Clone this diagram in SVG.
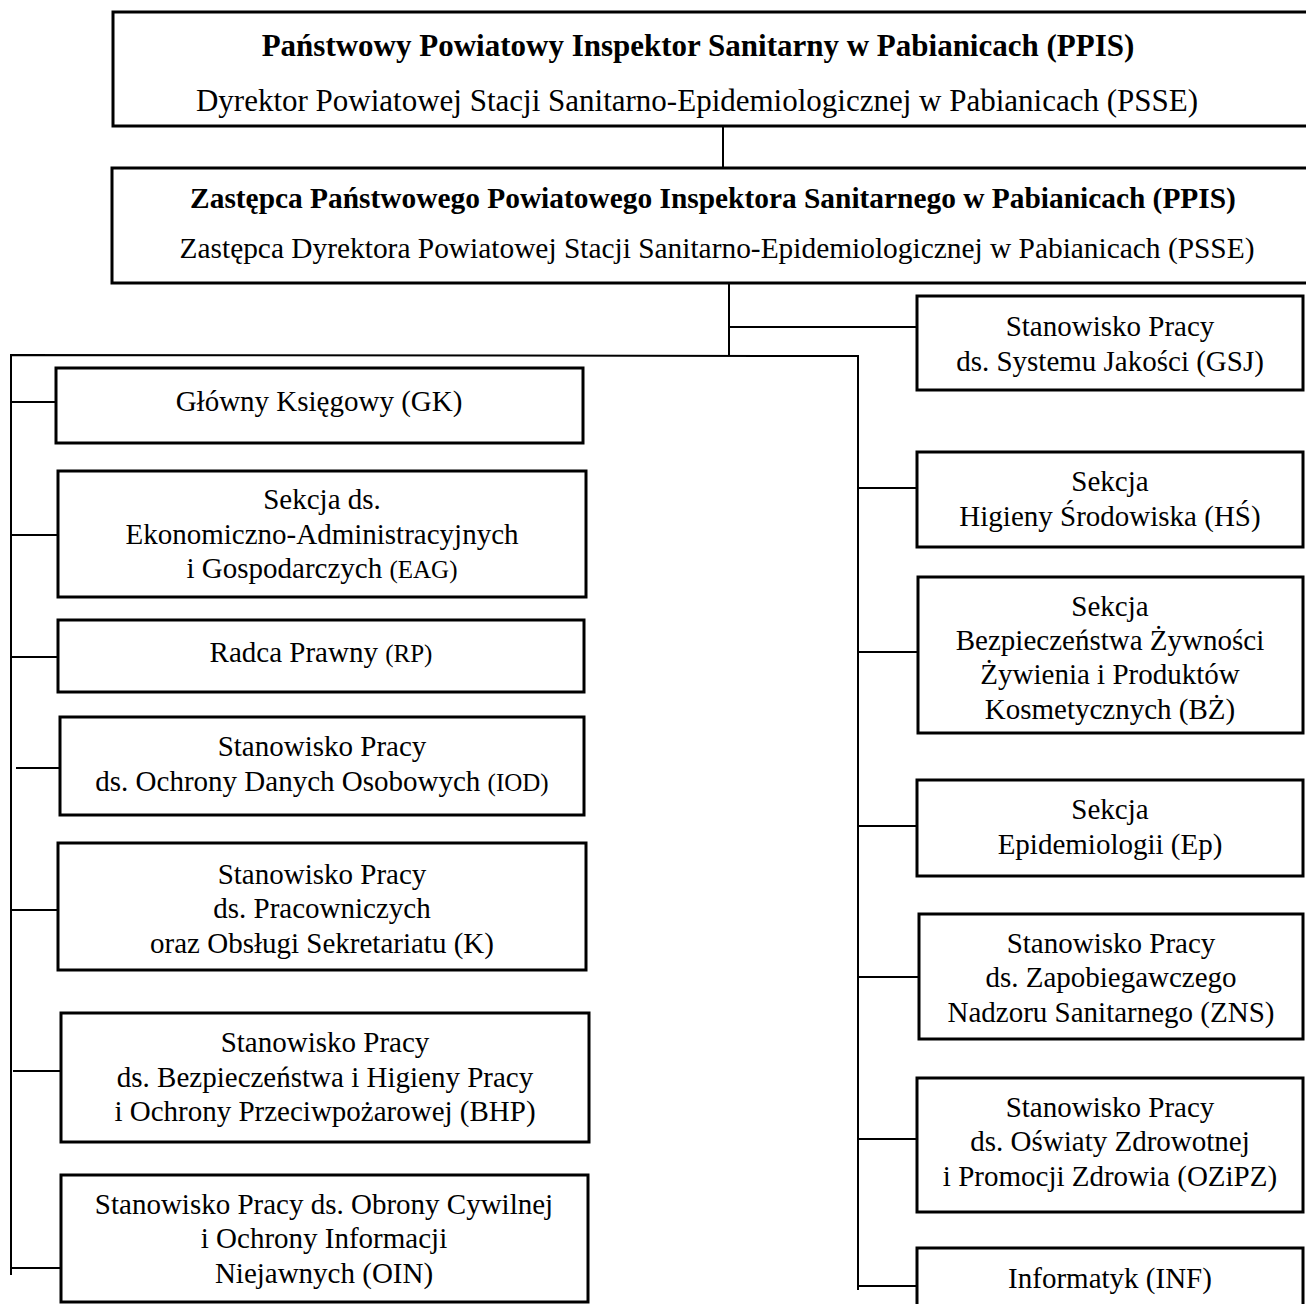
<svg xmlns="http://www.w3.org/2000/svg" width="1306" height="1304" viewBox="0 0 1306 1304">
<style>
.box{fill:#fff;stroke:#000;stroke-width:3}
.ln{stroke:#000;stroke-width:2;fill:none}
text{font-family:"Liberation Serif","Times New Roman",serif;font-size:29px;fill:#000;text-anchor:middle}
.b{font-weight:bold}
.s{font-size:25px}
.t1{font-size:31px}
.t2{font-size:29.4px}
</style>
<rect width="1306" height="1304" fill="#fff"/>
<g id="connectors">
<line class="ln" x1="723" y1="126" x2="723" y2="168"/>
<line class="ln" x1="729" y1="283" x2="729" y2="355"/>
<line class="ln" x1="729" y1="327" x2="917" y2="327"/>
<polyline class="ln" points="11,1275 11,355 858,356 858,1290"/>
<line class="ln" x1="11" y1="402" x2="56" y2="402"/>
<line class="ln" x1="11" y1="535" x2="58" y2="535"/>
<line class="ln" x1="11" y1="657" x2="58" y2="657"/>
<line class="ln" x1="16" y1="768" x2="60" y2="768"/>
<line class="ln" x1="11" y1="910" x2="58" y2="910"/>
<line class="ln" x1="13" y1="1071" x2="61" y2="1071"/>
<line class="ln" x1="11" y1="1268" x2="61" y2="1268"/>
<line class="ln" x1="858" y1="488" x2="917" y2="488"/>
<line class="ln" x1="858" y1="652" x2="918" y2="652"/>
<line class="ln" x1="858" y1="826" x2="917" y2="826"/>
<line class="ln" x1="858" y1="977" x2="919" y2="977"/>
<line class="ln" x1="858" y1="1139" x2="917" y2="1139"/>
<line class="ln" x1="858" y1="1286" x2="917" y2="1286"/>
</g>
<g id="ppis">
<rect class="box" x="113" y="12" width="1200" height="114"/>
<text class="b t1" x="698" y="56">Państwowy Powiatowy Inspektor Sanitarny w Pabianicach (PPIS)</text>
<text class="t1" x="697" y="111">Dyrektor Powiatowej Stacji Sanitarno-Epidemiologicznej w Pabianicach (PSSE)</text>
</g>
<g id="zastepca">
<rect class="box" x="112" y="168" width="1200" height="115"/>
<text class="b t2" x="713" y="208">Zastępca Państwowego Powiatowego Inspektora Sanitarnego w Pabianicach (PPIS)</text>
<text class="t2" x="717" y="258">Zastępca Dyrektora Powiatowej Stacji Sanitarno-Epidemiologicznej w Pabianicach (PSSE)</text>
</g>
<g id="gsj">
<rect class="box" x="917" y="296" width="386" height="94"/>
<text x="1110" y="336">Stanowisko Pracy</text>
<text x="1110" y="371">ds. Systemu Jakości (GSJ)</text>
</g>
<g id="gk">
<rect class="box" x="56" y="368" width="527" height="75"/>
<text x="319" y="411">Główny Księgowy (GK)</text>
</g>
<g id="eag">
<rect class="box" x="58" y="471" width="528" height="126"/>
<text x="322" y="509">Sekcja ds.</text>
<text x="322" y="544">Ekonomiczno-Administracyjnych</text>
<text x="322" y="578">i Gospodarczych  <tspan class="s">(EAG)</tspan></text>
</g>
<g id="rp">
<rect class="box" x="58" y="620" width="526" height="72"/>
<text x="321" y="662">Radca Prawny <tspan class="s">(RP)</tspan></text>
</g>
<g id="iod">
<rect class="box" x="60" y="717" width="524" height="98"/>
<text x="322" y="756">Stanowisko Pracy</text>
<text x="322" y="791">ds. Ochrony Danych Osobowych <tspan class="s">(IOD)</tspan></text>
</g>
<g id="k">
<rect class="box" x="58" y="843" width="528" height="127"/>
<text x="322" y="884">Stanowisko Pracy</text>
<text x="322" y="918">ds. Pracowniczych</text>
<text x="322" y="953">oraz Obsługi Sekretariatu (K)</text>
</g>
<g id="bhp">
<rect class="box" x="61" y="1013" width="528" height="129"/>
<text x="325" y="1052">Stanowisko Pracy</text>
<text x="325" y="1087">ds. Bezpieczeństwa i Higieny Pracy</text>
<text x="325" y="1121">i Ochrony Przeciwpożarowej (BHP)</text>
</g>
<g id="oin">
<rect class="box" x="61" y="1175" width="527" height="127"/>
<text x="324" y="1214">Stanowisko Pracy ds. Obrony Cywilnej</text>
<text x="324" y="1248">i Ochrony Informacji</text>
<text x="324" y="1283">Niejawnych (OIN)</text>
</g>
<g id="hs">
<rect class="box" x="917" y="452" width="386" height="95"/>
<text x="1110" y="491">Sekcja</text>
<text x="1110" y="526">Higieny Środowiska (HŚ)</text>
</g>
<g id="bz">
<rect class="box" x="918" y="577" width="385" height="156"/>
<text x="1110" y="616">Sekcja</text>
<text x="1110" y="650">Bezpieczeństwa Żywności</text>
<text x="1110" y="684">Żywienia i Produktów</text>
<text x="1110" y="719">Kosmetycznych (BŻ)</text>
</g>
<g id="ep">
<rect class="box" x="917" y="780" width="386" height="96"/>
<text x="1110" y="819">Sekcja</text>
<text x="1110" y="854">Epidemiologii (Ep)</text>
</g>
<g id="zns">
<rect class="box" x="919" y="914" width="384" height="125"/>
<text x="1111" y="953">Stanowisko Pracy</text>
<text x="1111" y="987">ds. Zapobiegawczego</text>
<text x="1111" y="1022">Nadzoru Sanitarnego (ZNS)</text>
</g>
<g id="ozipz">
<rect class="box" x="917" y="1078" width="386" height="134"/>
<text x="1110" y="1117">Stanowisko Pracy</text>
<text x="1110" y="1151">ds. Oświaty Zdrowotnej</text>
<text x="1110" y="1186">i Promocji Zdrowia (OZiPZ)</text>
</g>
<g id="inf">
<rect class="box" x="917" y="1248" width="386" height="70"/>
<text x="1110" y="1288">Informatyk (INF)</text>
</g>
</svg>
